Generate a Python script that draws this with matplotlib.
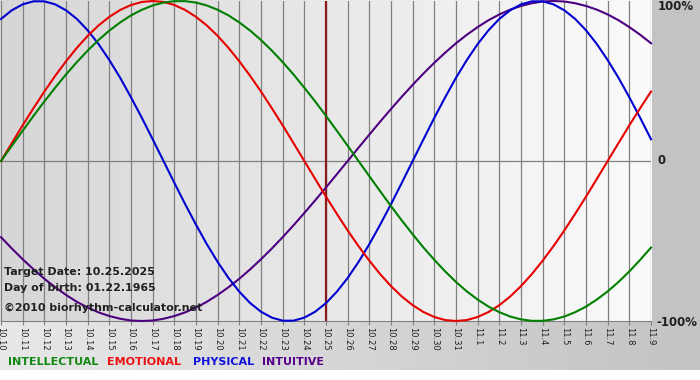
import numpy as np
import matplotlib
matplotlib.use('Agg')
import matplotlib.pyplot as plt

# day labels 10.10 .. 11.9
days = ['10.%d' % d for d in range(10, 32)] + ['11.%d' % d for d in range(1, 10)]

# values every half day (-1 .. 1)
physical = [.888, .942, .979, .998, .998, .979, .942, .888, .817, .731, .631, .520, .398, .270, .136,
            0,
            -.136, -.270, -.398, -.520, -.631, -.731, -.817, -.888, -.942, -.979, -.998,
            -.998, -.979, -.942, -.888, -.817, -.731, -.631, -.520, -.398, -.270, -.136,
            0,
            .136, .270, .398, .520, .631, .731, .817, .888, .942, .979, .998,
            .998, .979, .942, .888, .817, .731, .631, .520, .398, .270, .136]
emotional = [0, .112, .223, .330, .434, .532, .623, .707, .782, .847, .901, .944, .975, .994, 1.0,
             .994, .975, .944, .901, .847, .782, .707, .623, .532, .434, .330, .223, .112, 0,
             -.112, -.223, -.330, -.434, -.532, -.623, -.707, -.782, -.847, -.901, -.944, -.975, -.994, -1.0,
             -.994, -.975, -.944, -.901, -.847, -.782, -.707, -.623, -.532, -.434, -.330, -.223, -.112,
             0, .112, .223, .330, .434]
intellectual = [0, .095, .189, .282, .372, .458, .541, .618, .690, .756, .815, .866, .910, .945, .972, .990, .999,
                .999, .990, .972, .945, .910, .866, .815, .756, .690, .618, .541, .458, .372, .282, .189, .095, 0,
                -.095, -.189, -.282, -.372, -.458, -.541, -.618, -.690, -.756, -.815, -.866, -.910, -.945, -.972,
                -.990, -.999, -.999, -.990, -.972, -.945, -.910, -.866, -.815, -.756, -.690, -.618, -.541]
intuitive = [-.476, -.547, -.614, -.677, -.736, -.789, -.837, -.880, -.916, -.946, -.969, -.986, -.997, -1.0,
             -.997, -.986, -.969, -.946, -.916, -.880, -.837, -.789, -.736, -.677, -.614, -.547, -.476,
             -.402, -.325, -.246, -.165, -.083,
             0, .083, .165, .246, .325, .402, .476, .547, .614, .677, .736, .789, .837, .880, .916, .946,
             .969, .986, .997, 1.0, .997, .986, .969, .946, .916, .880, .837, .789, .736]
target_day = '10.25'

W, H = 700, 380
fig = plt.figure(figsize=(W / 100, H / 100), dpi=100)

# background: plot gradient, right margin, bottom band
bg = np.ones((H, W, 3))
px_right, px_bottom = 651, 321
xs = np.arange(W)
bg[:px_bottom + 1, :px_right + 1] = (214 + (251 - 214) * xs[:px_right + 1] / px_right)[None, :, None] / 255
bg[:px_bottom + 1, px_right + 1:] = 195 / 255
bg[px_bottom + 1:370, :] = (232 - (232 - 195) * xs / (W - 1))[None, :, None] / 255
ax_bg = fig.add_axes([0, 0, 1, 1], zorder=-1)
ax_bg.imshow(bg, aspect='auto', interpolation='nearest')
ax_bg.axis('off')

ax = fig.add_axes([1 / W, 1 - px_bottom / H, (px_right - 1) / W, (px_bottom - 1) / H])
ax.patch.set_visible(False)
x = np.arange(len(days))
xh = np.arange(len(physical)) / 2
ax.set_xlim(0, len(days) - 1)
ax.set_ylim(-1, 1)

grid_col = '#808080'
for xi in x:
    ax.axvline(xi, color=grid_col, lw=0.9, zorder=1)
ax.axhline(0, color=grid_col, lw=0.9, zorder=1)
ax.axvline(days.index(target_day), color='#8b1a1a', lw=1.6, zorder=2)

ax.plot(xh, intuitive, color='#4d0080', lw=1.5, zorder=3, clip_on=False)
ax.plot(xh, physical, color='#0000d0', lw=1.5, zorder=3, clip_on=False)
ax.plot(xh, emotional, color='#e60000', lw=1.5, zorder=3, clip_on=False)
ax.plot(xh, intellectual, color='#007f00', lw=1.5, zorder=3, clip_on=False)

for s in ['top', 'left', 'right']:
    ax.spines[s].set_visible(False)
ax.spines['bottom'].set_color(grid_col)
ax.set_yticks([])
ax.set_xticks(x)
ax.set_xticklabels(days, rotation=-90, fontsize=6, color='#202020')
ax.tick_params(axis='x', length=3, width=0.8, color=grid_col, pad=1)

txt = dict(fontsize=7.9, fontweight='bold', color='#202020', va='center', ha='left')
ax.text(0.005, 0.153, 'Target Date: 10.25.2025', transform=ax.transAxes, **txt)
ax.text(0.005, 0.103, 'Day of birth: 01.22.1965', transform=ax.transAxes, **txt)
ax.text(0.005, 0.04, '\u00a92010 biorhythm-calculator.net', transform=ax.transAxes, **txt)

rt = dict(fontsize=8.5, fontweight='bold', color='#202020', va='center', ha='left')
fig.text(658 / W, 1 - 7 / H, '100%', **rt)
fig.text(658 / W, 1 - 161 / H, '0', **rt)
fig.text(656 / W, 1 - 322 / H, '-100%', **rt)

legend = [('INTELLECTUAL', '#118811', 8), ('EMOTIONAL', '#ee1111', 107),
          ('PHYSICAL', '#1111dd', 193), ('INTUITIVE', '#550088', 262)]
for name, col, xp in legend:
    fig.text(xp / W, 1 - 362 / H, name, fontsize=8, fontweight='bold', color=col,
             va='center', ha='left')

fig.savefig('out.png', dpi=100)
